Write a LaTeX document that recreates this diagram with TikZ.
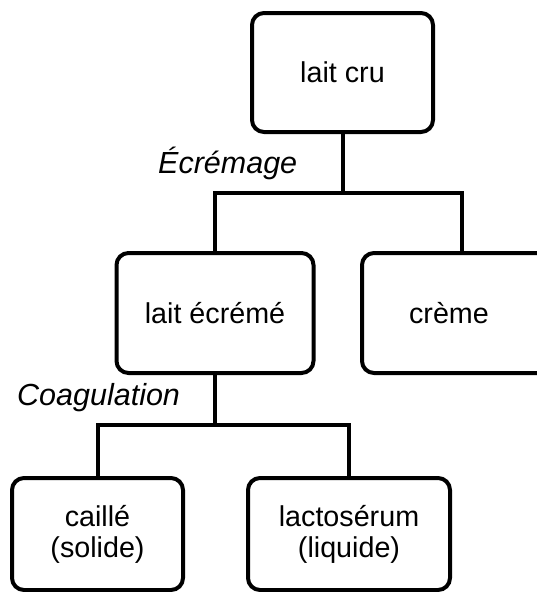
\documentclass[tikz,border=0pt]{standalone}
\usepackage{fontspec}
\setmainfont{Liberation Sans}
\begin{document}
\begin{tikzpicture}[x=1pt,y=-1pt,
  boxnode/.style={draw=black,line width=4pt,rounded corners=12pt,align=center,
    font=\fontsize{28.7}{31}\selectfont,inner sep=0pt},
  conn/.style={draw=black,line width=4pt},
  steplabel/.style={font=\fontsize{30.5}{32}\selectfont\itshape,inner sep=0pt}]
\useasboundingbox (0,0) rectangle (537,592);
\clip (0,0) rectangle (537,592);
\fill[white] (0,0) rectangle (537,592);
% boxes
\node[boxnode,minimum width=181pt,minimum height=119pt] (A) at (342.5,72.5) {lait cru};
\node[boxnode,minimum width=197pt,minimum height=120pt] (B) at (215,313) {lait écrémé};
\node[boxnode,minimum width=200pt,minimum height=120pt] (C) at (462,313) {};
\node[font=\fontsize{28.7}{31}\selectfont,inner sep=0pt] (Ct) at (449,313) {crème};
\node[boxnode,minimum width=171pt,minimum height=112pt] (D) at (97.5,534) {caillé\\(solide)};
\node[boxnode,minimum width=202pt,minimum height=112pt] (E) at (349,534) {lactosérum\\(liquide)};
% junctions
\coordinate (j1) at (342.5,193);
\coordinate (j2) at (215,425);
% connectors
\draw[conn] (A.south) -- (j1);
\draw[conn] (B.north) |- (j1) -| (C.north);
\draw[conn] (B.south) -- (j2);
\draw[conn] (D.north) |- (j2) -| (E.north);
% labels
\node[steplabel,anchor=base west] (L1) at (158,173) {Écrémage};
\node[steplabel,anchor=base west] (L2) at (17,405) {Coagulation};
\end{tikzpicture}
\end{document}
